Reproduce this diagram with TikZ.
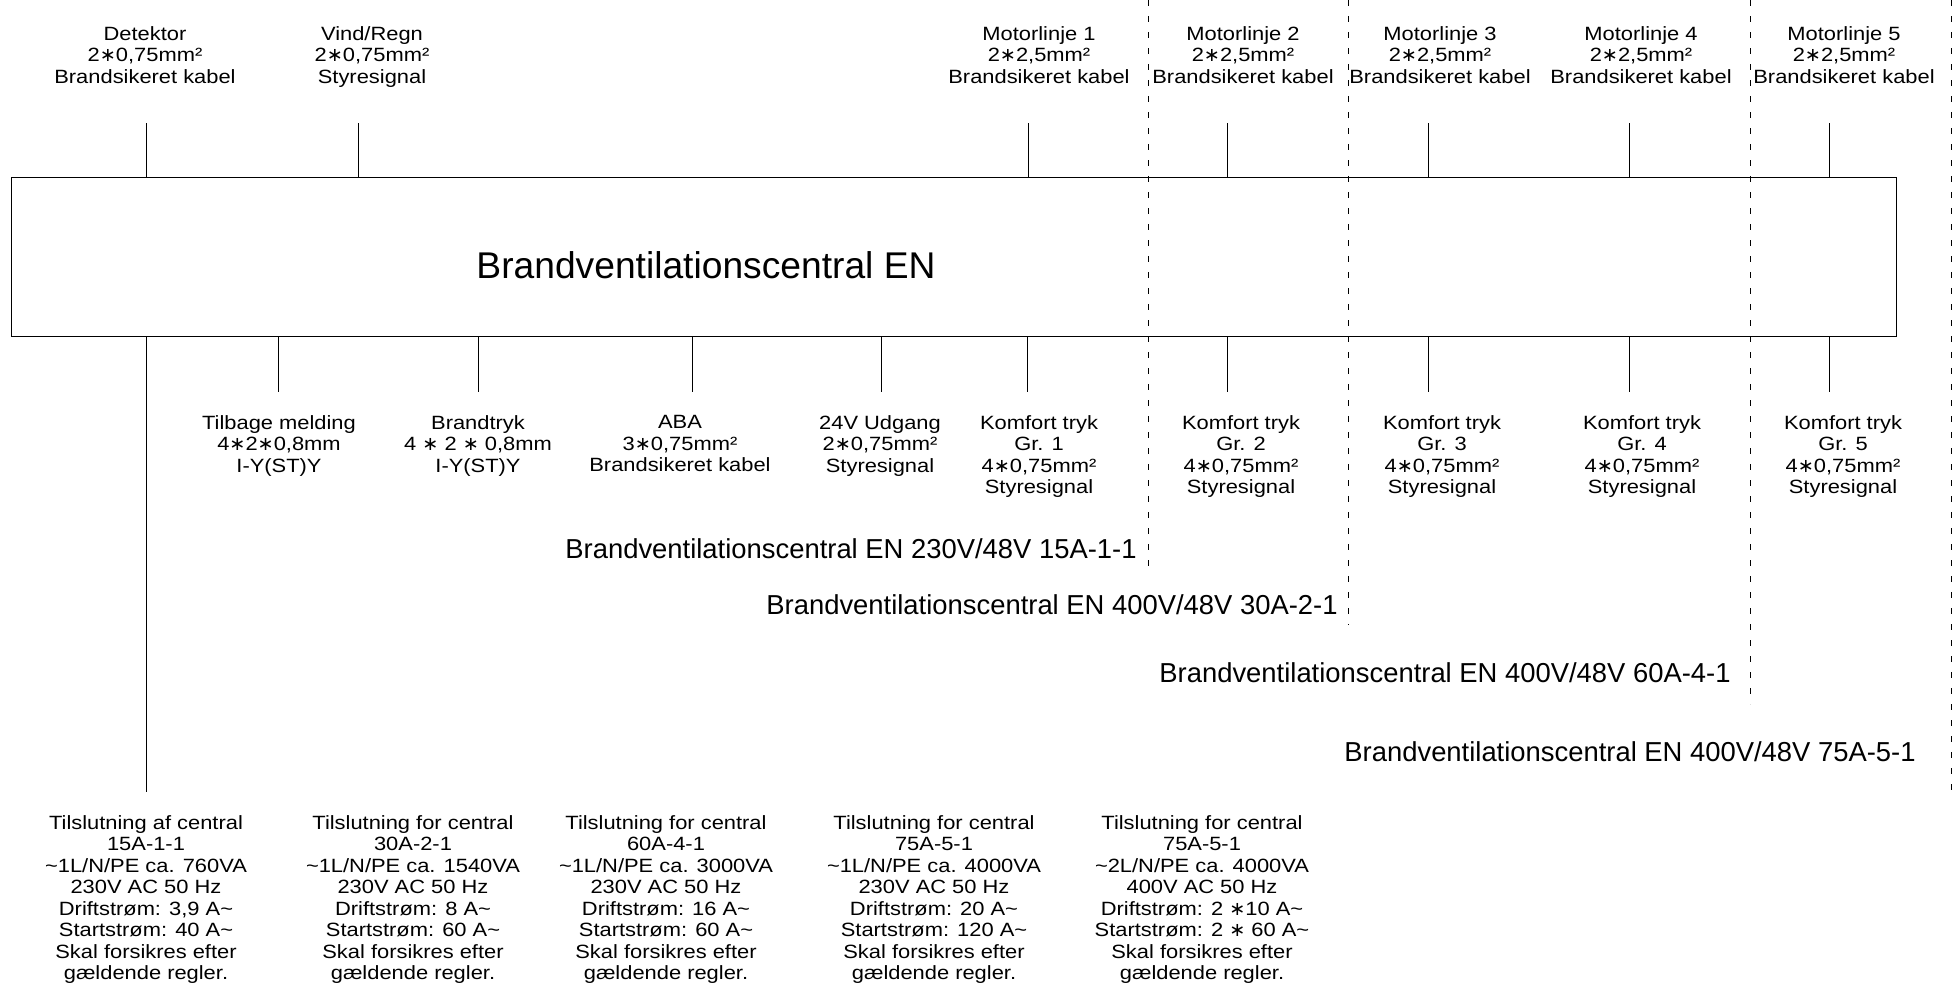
\documentclass[tikz,border=0pt]{standalone}
\usepackage{fontspec}
\setmainfont{Liberation Sans}
\newfontfamily\cad[FakeStretch=1.14]{Liberation Sans}
\newfontfamily\symb{DejaVu Sans}
\usepackage{tikz}
\usetikzlibrary{positioning}

\newcommand{\stj}{{\symb ∗}}

\begin{document}
\begin{tikzpicture}[x=0.5pt, y=-0.5pt, thin, align=center, inner sep=0pt]

    \tikzstyle{lbl}=[font=\cad\fontsize{9.6}{10.75}\selectfont, anchor=north]
    \tikzstyle{kasse}=[draw, semithick, anchor=north west, minimum width=942.5pt, minimum height=79.5pt]
    \tikzstyle{skel}=[dash pattern=on 3pt off 5pt]
    \tikzstyle{central}=[font=\fontsize{13.7}{14}\selectfont, anchor=east]

    \useasboundingbox (0,0) rectangle (1953,985);

    % the central itself
    \node[kasse] (box) at (11,177) {};
    \node[font=\fontsize{18.6}{20}\selectfont] (titel) at (706,265) {Brandventilationscentral EN};

    % limits of the four sizes
    \draw[skel] (1148,0) -- (1148,568);
    \draw[skel] (1348,0) -- (1348,625);
    \draw[skel] (1750,0) -- (1750,704);
    \draw[skel] (1951,0) -- (1951,790);

    % inputs on top
    \node[lbl] (detektor) at (145,26) {Detektor\\2\stj0,75mm²\\Brandsikeret kabel};
    \node[lbl] (vind) at (372,26) {Vind/Regn\\2\stj0,75mm²\\Styresignal};
    \coordinate (tdet) at (146,123);
    \coordinate (tvind) at (358,123);
    \draw (tdet) -- (tdet |- box.north);
    \draw (tvind) -- (tvind |- box.north);

    \foreach \n/\x/\t in {1/1039/1028, 2/1243/1227, 3/1440/1428, 4/1641/1629, 5/1844/1829} {
        \node[lbl] (motor\n) at (\x,26) {Motorlinje \n\\2\stj2,5mm²\\Brandsikeret kabel};
        \coordinate (tmotor\n) at (\t,123);
        \draw (tmotor\n) -- (tmotor\n |- box.north);
    }

    % outputs below
    \node[lbl] (tilbage) at (279,415) {Tilbage melding\\4\stj2\stj0,8mm\\I-Y(ST)Y};
    \node[lbl] (brandtryk) at (478,415) {Brandtryk\\4 \stj{} 2 \stj{} 0,8mm\\I-Y(ST)Y};
    \node[lbl] (aba) at (680,415) {ABA\\3\stj0,75mm²\\Brandsikeret kabel};
    \node[lbl] (udgang) at (880,415) {24V Udgang\\2\stj0,75mm²\\Styresignal};
    \coordinate (btilbage) at (278,392);
    \coordinate (bbrandtryk) at (478,392);
    \coordinate (baba) at (692,392);
    \coordinate (budgang) at (881,392);
    \draw (box.south -| btilbage) -- (btilbage);
    \draw (box.south -| bbrandtryk) -- (bbrandtryk);
    \draw (box.south -| baba) -- (baba);
    \draw (box.south -| budgang) -- (budgang);

    \foreach \n/\x/\t in {1/1039/1027, 2/1241/1227, 3/1442/1428, 4/1642/1629, 5/1843/1829} {
        \node[lbl] (komfort\n) at (\x,415) {Komfort tryk\\Gr. \n\\4\stj0,75mm²\\Styresignal};
        \coordinate (bkomfort\n) at (\t,392);
        \draw (box.south -| bkomfort\n) -- (bkomfort\n);
    }

    % supply line
    \coordinate (net) at (146,792);
    \draw (box.south -| net) -- (net);

    % sizes
    \node[central] (bvc15) at (1137,549) {Brandventilationscentral EN 230V/48V 15A-1-1};
    \node[central] (bvc30) at (1338,605) {Brandventilationscentral EN 400V/48V 30A-2-1};
    \node[central] (bvc60) at (1731,673) {Brandventilationscentral EN 400V/48V 60A-4-1};
    \node[central] (bvc75) at (1916,752) {Brandventilationscentral EN 400V/48V 75A-5-1};

    % supply data
    \node[lbl] (tils15) at (146,815) {Tilslutning af central\\15A-1-1\\\textasciitilde1L/N/PE ca. 760VA\\230V AC 50 Hz\\Driftstrøm: 3,9 A\textasciitilde\\Startstrøm: 40 A\textasciitilde\\Skal forsikres efter\\gældende regler.};
    \node[lbl] (tils30) at (413,815) {Tilslutning for central\\30A-2-1\\\textasciitilde1L/N/PE ca. 1540VA\\230V AC 50 Hz\\Driftstrøm: 8 A\textasciitilde\\Startstrøm: 60 A\textasciitilde\\Skal forsikres efter\\gældende regler.};
    \node[lbl] (tils60) at (666,815) {Tilslutning for central\\60A-4-1\\\textasciitilde1L/N/PE ca. 3000VA\\230V AC 50 Hz\\Driftstrøm: 16 A\textasciitilde\\Startstrøm: 60 A\textasciitilde\\Skal forsikres efter\\gældende regler.};
    \node[lbl] (tils75a) at (934,815) {Tilslutning for central\\75A-5-1\\\textasciitilde1L/N/PE ca. 4000VA\\230V AC 50 Hz\\Driftstrøm: 20 A\textasciitilde\\Startstrøm: 120 A\textasciitilde\\Skal forsikres efter\\gældende regler.};
    \node[lbl] (tils75b) at (1202,815) {Tilslutning for central\\75A-5-1\\\textasciitilde2L/N/PE ca. 4000VA\\400V AC 50 Hz\\Driftstrøm: 2 \stj10 A\textasciitilde\\Startstrøm: 2 \stj{} 60 A\textasciitilde\\Skal forsikres efter\\gældende regler.};

\end{tikzpicture}
\end{document}
